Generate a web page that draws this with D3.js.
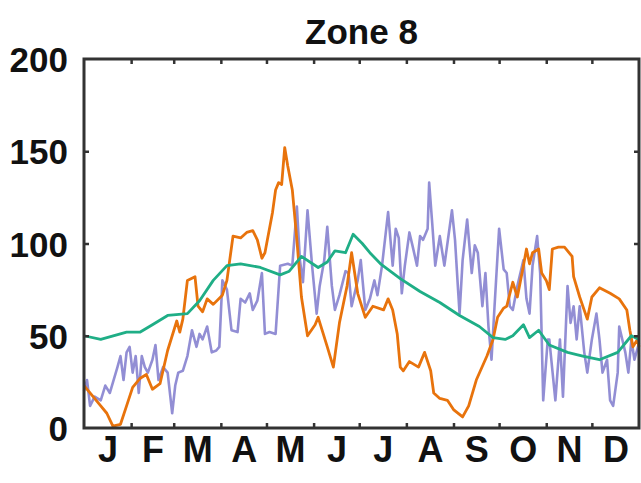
<!DOCTYPE html>
<html>
<head>
<meta charset="utf-8">
<script src="https://cdn.jsdelivr.net/npm/d3@7"></script>
<style>
  body { margin: 0; background: #fff; }
  text { font-family: "Liberation Sans", Arial, sans-serif; font-weight: bold; fill: #111; }
</style>
</head>
<body>
<svg id="chart" width="641" height="483"></svg>
<script>
const title = "Zone 8";
const months = ["J","F","M","A","M","J","J","A","S","O","N","D"];
const monthStarts = [0,31,59,90,120,151,181,212,243,273,304,334,365];
const yTicks = [0,50,100,150,200];

const greenDays = [0,11,28,37,45,55,68,76,85,94,103,116,129,135,143,154,160,165,172,177,183,188,195,208,221,234,247,260,269,277,282,289,293,299,306,318,328,339,351,360,365];
const greenVals = [50,48,52,52,56,61,62,69,80,88,89,87,83,85,93,87,90,96,95,105,100,95,89,81,74,68,61,55,49,48,50,56,49,53,45,41,39,37,41,50,48];

const orangeDays = [0,6,11,15,19,24,28,32,37,41,45,50,55,61,63,65,68,73,75,78,81,85,91,94,98,103,107,111,114,117,119,124,126,128,130,132,134,137,140,143,147,152,154,160,164,168,173,176,180,185,190,197,200,203,206,208,210,214,220,224,228,230,234,239,243,249,253,258,265,269,272,276,278,282,285,289,291,293,295,299,301,304,306,308,312,316,321,322,326,331,334,339,346,352,357,359,361,364,365];
const orangeVals = [23,17,12,8,1,2,12,22,27,29,21,24,42,58,52,59,80,82,66,63,70,67,72,80,104,103,106,107,102,92,95,117,129,133,132,152,142,129,102,71,50,56,60,44,33,57,77,95,73,60,66,64,70,64,51,33,31,36,33,41,31,19,16,15,10,6,12,26,39,48,60,65,66,79,71,88,97,89,95,97,84,80,75,97,98,98,93,82,71,59,71,76,73,70,64,53,44,48,44];

const purpleDays = [0,2,4,7,11,14,17,22,24,26,28,30,32,34,36,38,40,42,45,47,49,52,55,58,60,62,65,68,71,74,76,78,81,84,87,89,91,94,97,101,103,106,109,111,114,117,119,122,126,129,134,137,140,142,144,147,150,153,155,158,160,163,165,168,172,174,176,180,182,185,188,191,193,196,200,203,205,207,209,211,214,216,219,221,223,226,227,229,231,234,237,239,242,244,246,247,249,252,255,257,259,262,264,266,268,270,273,276,278,280,282,285,289,291,293,295,298,300,302,305,306,310,313,315,318,320,322,324,326,329,331,334,337,339,341,344,346,348,351,352,356,358,360,362,365];
const purpleVals = [20,26,12,17,15,23,19,33,39,26,41,44,30,39,19,39,33,30,37,45,26,33,30,8,23,30,31,39,53,44,51,48,55,41,42,44,80,75,53,52,70,68,73,64,69,84,51,52,51,88,89,88,120,91,79,118,88,62,77,91,109,77,64,72,85,84,66,80,91,64,70,80,72,88,117,88,108,103,73,88,106,99,88,104,102,108,133,111,88,104,88,100,118,102,75,62,91,113,84,99,95,66,84,55,37,66,108,86,84,66,64,77,91,70,62,88,104,84,15,48,48,15,48,17,77,57,66,48,66,41,30,48,62,48,30,37,15,12,30,55,41,30,48,37,46];

const svg = d3.select("#chart");
const L = 84, R = 639, T = 59, B = 428;
const x = d3.scaleLinear().domain([0, 365]).range([L, R]);
const y = d3.scaleLinear().domain([0, 200]).range([B, T]);

const zip = (ds, vs) => ds.map((d, i) => [d, vs[i]]);
const line = d3.line().x(d => x(d[0])).y(d => y(d[1]));

const g = svg.append("g");
g.append("path").datum(zip(purpleDays, purpleVals)).attr("d", line)
  .attr("fill", "none").attr("stroke", "#8682cf").attr("stroke-opacity", 0.9)
  .attr("stroke-width", 2.6).attr("stroke-linejoin", "round");
g.append("path").datum(zip(orangeDays, orangeVals)).attr("d", line)
  .attr("fill", "none").attr("stroke", "#e8730c")
  .attr("stroke-width", 2.8).attr("stroke-linejoin", "round");
g.append("path").datum(zip(greenDays, greenVals)).attr("d", line)
  .attr("fill", "none").attr("stroke", "#1fae86")
  .attr("stroke-width", 2.8).attr("stroke-linejoin", "round");

// ticks
const tickStyle = sel => { sel.select(".domain").remove(); sel.selectAll("line").attr("stroke", "#333").attr("stroke-width", 2.5); };
const inner = monthStarts.slice(1, -1);
svg.append("g").attr("transform", `translate(0,${B})`)
  .call(d3.axisBottom(x).tickValues(inner).tickSize(-5).tickFormat("")).call(tickStyle);
svg.append("g").attr("transform", `translate(0,${T})`)
  .call(d3.axisTop(x).tickValues(inner).tickSize(-5).tickFormat("")).call(tickStyle);
svg.append("g").attr("transform", `translate(${L},0)`)
  .call(d3.axisLeft(y).tickValues(yTicks.slice(1, -1)).tickSize(-5).tickFormat("")).call(tickStyle);
svg.append("g").attr("transform", `translate(${R},0)`)
  .call(d3.axisRight(y).tickValues(yTicks.slice(1, -1)).tickSize(-5).tickFormat("")).call(tickStyle);

// y labels
const yl = svg.append("g").attr("transform", `translate(${L},0)`)
  .call(d3.axisLeft(y).tickValues(yTicks).tickSize(0).tickPadding(16).tickFormat(d3.format("d")));
yl.select(".domain").remove();
yl.selectAll("text").attr("font-size", 35).attr("font-family", "'Liberation Sans', Arial, sans-serif")
  .attr("font-weight", "bold").attr("fill", "#222").attr("dy", "0.36em");

// month labels
const mids = months.map((m, i) => (monthStarts[i] + monthStarts[i + 1]) / 2);
const xl = svg.append("g").attr("transform", `translate(0,${B})`)
  .call(d3.axisBottom(x).tickValues(mids).tickSize(0).tickPadding(8).tickFormat((d, i) => months[i]));
xl.select(".domain").remove();
xl.selectAll("text").attr("font-size", 36).attr("font-family", "'Liberation Sans', Arial, sans-serif")
  .attr("font-weight", "bold").attr("fill", "#111").attr("dy", "0.71em");

// frame
svg.append("rect").attr("x", L).attr("y", T).attr("width", R - L).attr("height", B - T)
  .attr("fill", "none").attr("stroke", "#333").attr("stroke-width", 3);

// title
svg.append("text").attr("x", (L + R) / 2).attr("y", 44).attr("text-anchor", "middle")
  .attr("font-size", 35).text(title);
</script>
</body>
</html>
